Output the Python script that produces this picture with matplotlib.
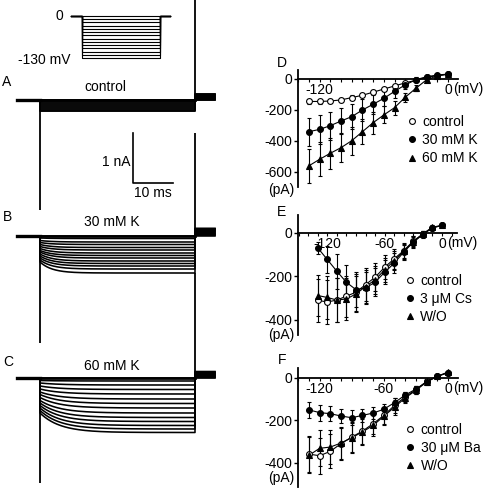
import numpy as np
import matplotlib
matplotlib.use("Agg")
import matplotlib.pyplot as plt
from matplotlib.lines import Line2D
from matplotlib.ticker import MultipleLocator

plt.rcParams['font.family'] = ['Liberation Sans', 'DejaVu Sans']
plt.rcParams['font.size'] = 10

# ---- data ----
# voltage steps (mV), holding 0 mV
steps = [0, -10, -20, -30, -40, -50, -60, -70, -80, -90, -100, -110, -120, -130]

# example traces: steady-state and initial current at each step (nA, inward positive)
ss_A = [0, 0.01, 0.02, 0.04, 0.06, 0.08, 0.10, 0.12, 0.14, 0.16, 0.18, 0.20, 0.21, 0.22]
ss_B = [0, 0.05, 0.12, 0.17, 0.23, 0.28, 0.34, 0.39, 0.44, 0.50, 0.55, 0.60, 0.66, 0.74]
init_B = [0, 0.04, 0.09, 0.13, 0.17, 0.21, 0.25, 0.29, 0.32, 0.36, 0.40, 0.44, 0.48, 0.52]
ss_C = [0, 0.06, 0.14, 0.23, 0.32, 0.42, 0.51, 0.60, 0.70, 0.79, 0.87, 0.95, 1.02, 1.09]
init_C = [0, 0.05, 0.10, 0.16, 0.22, 0.28, 0.33, 0.39, 0.45, 0.50, 0.55, 0.60, 0.65, 0.70]
tail_A = [0, 0.01, 0.02, 0.03, 0.04, 0.05, 0.06, 0.07, 0.08, 0.09, 0.10, 0.11, 0.12, 0.13]
tail_B = [0, 0.02, 0.03, 0.05, 0.06, 0.08, 0.09, 0.11, 0.12, 0.13, 0.14, 0.14, 0.15, 0.15]
tail_C = [0, 0.01, 0.02, 0.03, 0.04, 0.05, 0.06, 0.07, 0.08, 0.09, 0.10, 0.11, 0.12, 0.13]
spike_on = [2.2, 2.14, 2.1]   # capacitive transients (nA)
spike_off = [2.2, 2.06, 2.1]
tau_B, tau_C = 3.0, 5.0
t_pre, t_step, t_post = 5.75, 38.75, 5.0   # ms

# I-V data (pA)
volts = [-130, -120, -110, -100, -90, -80, -70, -60, -50, -40, -30, -20, -10, 0]

ctrl_D = [-145, -145, -142, -135, -120, -105, -85, -65, -45, -25, -8, 10, 22, 30]
ctrl_D_err = [15, 15, 15, 15, 15, 14, 12, 10, 8, 6, 5, 5, 5, 5]
k30_D = [-340, -325, -301, -271, -243, -200, -163, -125, -80, -38, -5, 15, 25, 32]
k30_D_err = [90, 95, 90, 85, 80, 70, 60, 50, 40, 25, 15, 10, 8, 6]
k60_D = [-560, -518, -479, -443, -398, -340, -282, -232, -185, -118, -60, -5, 20, 32]
k60_D_err = [110, 110, 100, 95, 90, 80, 70, 55, 45, 30, 20, 10, 8, 6]

ctrl_E = [-311, -319, -310, -292, -274, -239, -205, -159, -120, -82, -38, -5, 23, 34]
ctrl_E_err = [100, 100, 100, 95, 85, 75, 65, 55, 45, 35, 25, 15, 10, 8]
cs_E = [-69, -123, -177, -228, -262, -254, -228, -182, -140, -89, -43, -8, 23, 34]
cs_E_err = [27, 60, 80, 80, 80, 75, 65, 55, 45, 35, 25, 15, 10, 8]
wo_E = [-289, -298, -310, -305, -282, -248, -217, -171, -128, -85, -42, -5, 26, 34]
wo_E_err = [95, 100, 100, 95, 85, 75, 65, 55, 45, 35, 25, 15, 10, 8]

ctrl_F = [-358, -366, -345, -309, -278, -250, -215, -176, -129, -89, -55, -16, 8, 25]
ctrl_F_err = [85, 85, 80, 75, 70, 60, 50, 40, 35, 25, 18, 12, 8, 6]
ba_F = [-150, -163, -168, -179, -187, -176, -165, -147, -116, -80, -52, -18, 8, 25]
ba_F_err = [38, 38, 35, 35, 35, 32, 30, 25, 20, 15, 12, 8, 6, 5]
wo_F = [-364, -331, -325, -306, -281, -254, -223, -180, -137, -94, -58, -19, 8, 28]
wo_F_err = [85, 85, 80, 75, 70, 60, 50, 40, 35, 25, 18, 12, 8, 6]

W, H = 487, 488
fig = plt.figure(figsize=(W / 100, H / 100), dpi=100)


def fpos(x0, y0, x1, y1):
    return [x0 / W, 1 - y1 / H, (x1 - x0) / W, (y1 - y0) / H]


def ftext(x, y, s, **kw):
    fig.text(x / W, 1 - y / H, s, **kw)


# ---- voltage protocol ----
axp = fig.add_axes(fpos(60, 5, 180, 70))
axp.axis('off')
axp.set_xlim(-11, 48.7)
axp.set_ylim(-167, 34)
for v in steps:
    tt = [-t_pre, 0, 0, t_step, t_step, t_step + t_post]
    vv = [0, 0, v, v, 0, 0]
    axp.plot(tt, vv, color='k', lw=0.8)
ftext(63, 16, '0', ha='right', va='center')
ftext(71, 60, '-130 mV', ha='right', va='center')

# ---- current traces ----
axt = fig.add_axes(fpos(0, 0, 240, 488))
axt.axis('off')
axt.set_xlim(-10, 50)
axt.set_ylim(-9.76, 0)

t_in = np.linspace(0, t_step, 200)
t_out = np.linspace(t_step, t_step + t_post, 30)
traces = [(ss_A, ss_A, 1.0, tail_A), (init_B, ss_B, tau_B, tail_B),
          (init_C, ss_C, tau_C, tail_C)]
base = [-2.0, -4.72, -7.56]
for k, (i0, iss, tau, tail) in enumerate(traces):
    b = base[k]
    for j in range(len(steps)):
        cur = iss[j] - (iss[j] - i0[j]) * np.exp(-t_in / tau)
        tt = np.concatenate([[-t_pre, 0], t_in, t_out])
        yy = np.concatenate([[b, b], b - cur, b + tail[j] * np.ones_like(t_out)])
        axt.plot(tt, yy, color='k', lw=1.15)
    axt.plot([-t_pre, 0], [b, b], color='k', lw=2.4)
    axt.plot([0, t_step], [b, b], color='k', lw=2.0)
    axt.plot([t_step, t_step + t_post], [b + tail[-1] / 2] * 2, color='k',
             lw=1.2 + tail[-1] * 25, solid_capstyle='butt')
    axt.vlines(0, b - spike_on[k], b, color='k', lw=1.3)
    axt.vlines(t_step, b, b + spike_off[k], color='k', lw=1.3)

# scale bar 10 ms / 1 nA
axt.plot([23.25, 23.25, 33.25], [-2.66, -3.66, -3.66], color='k', lw=1.2)
ftext(131, 162, '1 nA', ha='right', va='center')
ftext(153, 193, '10 ms', ha='center', va='center')

ftext(2, 82, 'A', ha='left', va='center')
ftext(105, 87, 'control', ha='center', va='center')
ftext(3, 217, 'B', ha='left', va='center')
ftext(112, 222, '30 mM K', ha='center', va='center')
ftext(3, 362, 'C', ha='left', va='center')
ftext(112, 366, '60 mM K', ha='center', va='center')


# ---- I-V panels ----
def iv_panel(letter, box, xlim, ylim, yticks, xticks, pa_y, series, leg_xy, letter_y):
    ax = fig.add_axes(fpos(*box))
    ax.set_xlim(*xlim)
    ax.set_ylim(*ylim)
    for s in ['top', 'right']:
        ax.spines[s].set_visible(False)
    ax.spines['bottom'].set_position(('data', 0))
    ax.spines['left'].set_linewidth(1.3)
    ax.spines['bottom'].set_linewidth(1.3)
    ax.set_yticks(yticks)
    ax.set_yticklabels([str(v) for v in yticks])
    ax.set_xticks(xticks)
    ax.set_xticklabels([str(v) for v in xticks])
    ax.xaxis.set_minor_locator(MultipleLocator(10))
    ax.tick_params(axis='y', direction='out', length=3, width=1, pad=1)
    ax.tick_params(axis='x', which='both', direction='out', length=2, width=0.8, pad=1)
    ax.annotate('(mV)', xy=(0, 0), xycoords='data', xytext=(4, -2),
                textcoords='offset points', ha='left', va='top')
    ax.text(-0.02, pa_y, '(pA)', transform=ax.get_yaxis_transform(),
            ha='right', va='top')
    handles = []
    labels = []
    for y, err, mk, face, lab in series:
        ax.errorbar(volts, y, yerr=err, fmt='-', color='k', lw=0.8,
                    elinewidth=0.8, capsize=1.5, capthick=0.8, zorder=2)
        ax.plot(volts, y, ls='none', marker=mk, ms=4.2, mfc=face,
                mec='k', mew=0.8, zorder=3)
        handles.append(Line2D([], [], ls='none', marker=mk, ms=4.2,
                              mfc=face, mec='k', mew=0.8))
        labels.append(lab)
    ax.legend(handles, labels, loc='center left', bbox_to_anchor=leg_xy,
              frameon=False, handlelength=0.5, handletextpad=0.5,
              borderpad=0, borderaxespad=0, labelspacing=0.3)
    ftext(282, letter_y, letter, ha='center', va='center')
    return ax


iv_panel('D', (298, 70, 458, 187), (-140.3, 9.4), (-697, 58), [0, -200, -400, -600],
         [-120, 0], -668,
         [(ctrl_D, ctrl_D_err, 'o', 'white', 'control'),
          (k30_D, k30_D_err, 'o', 'k', '30 mM K'),
          (k60_D, k60_D_err, '^', 'k', '60 mM K')],
         (0.69, 0.40), 63)

iv_panel('E', (298, 215, 457, 335), (-150.6, 15.7), (-471, 82), [0, -200, -400],
         [-120, -60, 0], -438,
         [(ctrl_E, ctrl_E_err, 'o', 'white', 'control'),
          (cs_E, cs_E_err, 'o', 'k', '3 \u03bcM Cs'),
          (wo_E, wo_E_err, '^', 'k', 'W/O')],
         (0.68, 0.30), 212)

iv_panel('F', (298, 368, 458, 487), (-140.2, 9.3), (-513, 47), [0, -200, -400],
         [-120, -60, 0], -440,
         [(ctrl_F, ctrl_F_err, 'o', 'white', 'control'),
          (ba_F, ba_F_err, 'o', 'k', '30 \u03bcM Ba'),
          (wo_F, wo_F_err, '^', 'k', 'W/O')],
         (0.68, 0.33), 360)

fig.savefig('out.png', dpi=100)
